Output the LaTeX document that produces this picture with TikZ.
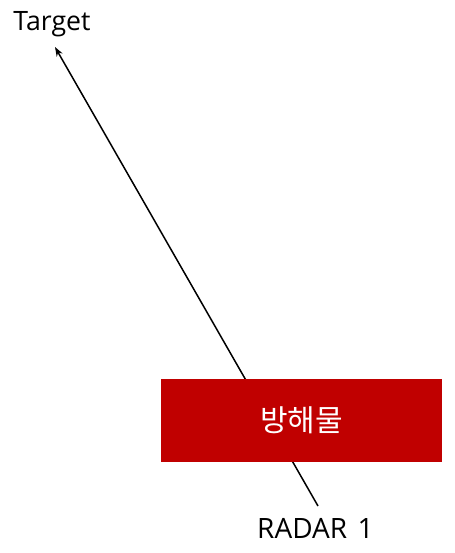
\documentclass[tikz,border=0pt]{standalone}
\usepackage{fontspec}
\setmainfont{Open Sans}
\newfontfamily\krfont{Noto Sans CJK KR}
\usetikzlibrary{arrows.meta}
\definecolor{obstred}{HTML}{C00000}
\begin{document}
\begin{tikzpicture}[x=0.75pt,y=-0.75pt,
  lbl/.style={inner sep=0pt, text=black},
  obst/.style={fill=obstred, draw=none, minimum width=211pt, minimum height=62pt, inner sep=0pt, text=white, font=\krfont\fontsize{22.5}{26}\selectfont},
  ray/.style={draw=black, line width=1.5pt*0.75, -{Stealth[length=7pt,width=5pt]}}]
\useasboundingbox (0,0) rectangle (454,553);
\coordinate (radar) at (318,506);
\coordinate (tgt) at (55,47);
\draw[ray] (radar) -- (tgt);
\node[obst] (ob) at (301.5,420.5) {방해물};
\node[lbl, font=\fontsize{20}{24}\selectfont] (tlabel) at (52,24) {Target};
\node[lbl, font=\fontsize{21}{25}\selectfont] (rlabel) at (315.5,528) {RADAR\hspace{0.12em} 1};
\end{tikzpicture}
\end{document}
